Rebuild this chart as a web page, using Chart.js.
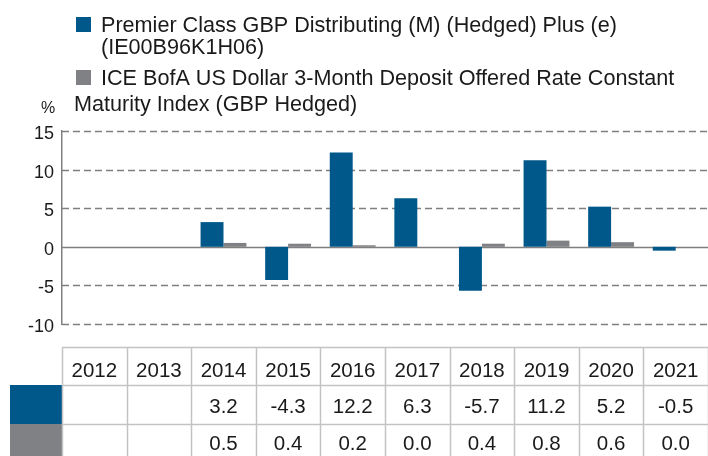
<!DOCTYPE html>
<html>
<head>
<meta charset="utf-8">
<script src="https://cdn.jsdelivr.net/npm/chart.js@4/dist/chart.umd.min.js"></script>
<style>
  html, body { margin: 0; padding: 0; background: #fff; }
  #wrap { position: relative; width: 708px; height: 456px; }
</style>
</head>
<body>
<div id="wrap"><canvas id="perf" width="708" height="456"></canvas></div>
<script>
// données
const years = ['2012', '2013', '2014', '2015', '2016', '2017', '2018', '2019', '2020', '2021'];
const fundReturns = [null, null, 3.2, -4.3, 12.2, 6.3, -5.7, 11.2, 5.2, -0.5];
const indexReturns = [null, null, 0.5, 0.4, 0.2, 0.0, 0.4, 0.8, 0.6, 0.0];
const yTicks = [15, 10, 5, 0, -5, -10];
const fundLabel = ['Premier Class GBP Distributing (M) (Hedged) Plus (e)', '(IE00B96K1H06)'];
const indexLabel = ['ICE BofA US Dollar 3-Month Deposit Offered Rate Constant', 'Maturity Index (GBP Hedged)'];

const BLUE = '#00578a';
const GREY = '#808185';
const FONT = '"Liberation Sans", Arial, sans-serif';

// grille en pointillés + ligne du zéro, dessinées avant les barres
const gridPlugin = {
  id: 'dashGrid',
  beforeDatasetsDraw(chart) {
    const {ctx, chartArea, scales: {y}} = chart;
    ctx.save();
    ctx.lineWidth = 1.5;
    ctx.strokeStyle = '#7f7f7f';
    yTicks.forEach(v => {
      const py = Math.round(y.getPixelForValue(v)) + 0.5;
      ctx.setLineDash(v === 0 ? [] : [7, 4]);
      ctx.beginPath();
      ctx.moveTo(chartArea.left, py);
      ctx.lineTo(chartArea.right, py);
      ctx.stroke();
    });
    ctx.restore();
  }
};

// légende sur deux lignes + tableau des valeurs sous le graphe
const extrasPlugin = {
  id: 'extras',
  afterDraw(chart) {
    const {ctx, scales: {x}} = chart;
    ctx.save();

    // légende
    ctx.textAlign = 'left';
    ctx.textBaseline = 'alphabetic';
    ctx.fillStyle = BLUE;
    ctx.fillRect(76, 17, 15, 15);
    ctx.fillStyle = GREY;
    ctx.fillRect(76, 70, 15, 15);
    ctx.font = '21.6px ' + FONT;
    ctx.fillStyle = '#1a1a1a';
    ctx.fillText(fundLabel[0], 101, 32);
    ctx.fillText(fundLabel[1], 101, 54);
    ctx.fillText(indexLabel[0], 101, 85);
    ctx.fillText(indexLabel[1], 74, 111);
    ctx.font = '16px ' + FONT;
    ctx.fillText('%', 41, 113);

    // tableau
    const colW = x.width / years.length;
    const rows = [347, 385, 424, 456];
    const left = x.left, right = x.right;

    ctx.fillStyle = BLUE;
    ctx.fillRect(10, rows[1], left - 10, rows[2] - rows[1]);
    ctx.fillStyle = GREY;
    ctx.fillRect(10, rows[2], left - 10, rows[3] - rows[2]);

    ctx.strokeStyle = '#c3c3c3';
    ctx.lineWidth = 1.5;
    ctx.beginPath();
    for (let r = 0; r < 3; r++) {
      ctx.moveTo(left, rows[r] + 0.5);
      ctx.lineTo(right, rows[r] + 0.5);
    }
    for (let i = 0; i <= years.length; i++) {
      const px = Math.round(left + i * colW) + 0.5;
      ctx.moveTo(px, rows[0]);
      ctx.lineTo(px, rows[3]);
    }
    ctx.stroke();

    ctx.font = '20.5px ' + FONT;
    ctx.fillStyle = '#1a1a1a';
    ctx.textAlign = 'center';
    years.forEach((yr, i) => {
      const cx = x.getPixelForValue(i);
      ctx.fillText(yr, cx, 377);
      if (fundReturns[i] !== null) ctx.fillText(fundReturns[i].toFixed(1), cx, 413);
      if (indexReturns[i] !== null) ctx.fillText(indexReturns[i].toFixed(1), cx, 450);
    });
    ctx.restore();
  }
};

new Chart(document.getElementById('perf'), {
  type: 'bar',
  data: {
    labels: years,
    datasets: [
      {label: fundLabel.join(' '), data: fundReturns, backgroundColor: BLUE},
      {label: indexLabel.join(' '), data: indexReturns, backgroundColor: GREY}
    ]
  },
  options: {
    responsive: false,
    devicePixelRatio: 1,
    animation: false,
    categoryPercentage: 0.71,
    barPercentage: 1.0,
    layout: {padding: {top: 131, bottom: 132, left: 0, right: 0}},
    plugins: {legend: {display: false}, tooltip: {enabled: false}},
    scales: {
      x: {display: false, offset: true},
      y: {
        min: -10,
        max: 15,
        afterFit: (s) => { s.width = 62; },
        afterBuildTicks: (s) => { s.ticks = yTicks.map(v => ({value: v})); },
        ticks: {color: '#1a1a1a', font: {size: 18, family: FONT}, padding: 8, labelOffset: 3},
        grid: {display: false, drawTicks: false},
        border: {display: true, color: '#808080', width: 1.5}
      }
    }
  },
  plugins: [gridPlugin, extrasPlugin]
});
</script>
</body>
</html>
